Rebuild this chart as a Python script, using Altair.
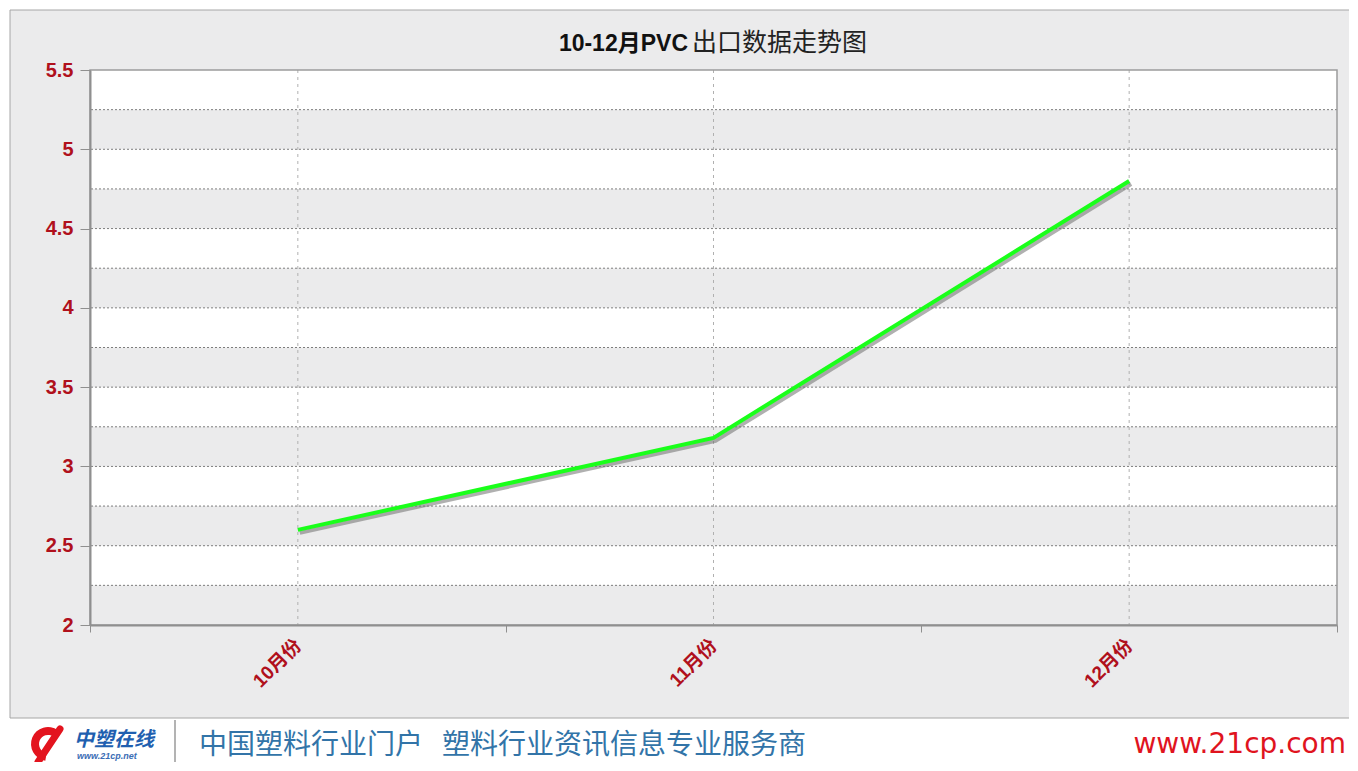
import altair as alt
import pandas as pd

# ---- data ----
months = ["10月份", "11月份", "12月份"]
values = [2.6, 3.18, 4.8]
gray_band_starts = [2.0, 2.5, 3.0, 3.5, 4.0, 4.5, 5.0]
grid_y = [2.25, 2.5, 2.75, 3.0, 3.25, 3.5, 3.75, 4.0, 4.25, 4.5, 4.75, 5.0, 5.25]
y_ticks = [2, 2.5, 3, 3.5, 4, 4.5, 5, 5.5]
title_bold = "10-12月PVC"
title_rest = "出口数据走势图"
footer_a = "中国塑料行业门户"
footer_b = "塑料行业资讯信息专业服务商"
footer_url_text = "www.21cp.com"
logo_name = "中塑在线"
logo_site = "www.21cp.net"

W, H = 1247, 555
RED = "#b0101c"
FONT = "Liberation Sans, Noto Sans CJK SC"

df = pd.DataFrame({"month": months, "value": values})
bands = pd.DataFrame({"y0": gray_band_starts, "y1": [v + 0.25 for v in gray_band_starts]})
grid = pd.DataFrame({"g": grid_y})

xscale = alt.Scale(domain=months, paddingInner=0, paddingOuter=0)
yscale = alt.Scale(domain=[2, 5.5], nice=False, zero=False)

one = pd.DataFrame({"k": [0]})


def txt(text, x, y, **kw):
    return alt.Chart(one).mark_text(text=text, **kw).encode(x=alt.value(x), y=alt.value(y))


frame = alt.Chart(one).mark_rect(fill="#ebebec", stroke="#a6a6a6", strokeWidth=1).encode(
    x=alt.value(-80), x2=alt.value(1262), y=alt.value(-60), y2=alt.value(648)
)
plot_bg = alt.Chart(one).mark_rect(fill="white").encode(
    x=alt.value(0), x2=alt.value(W), y=alt.value(0), y2=alt.value(H)
)
band_layer = alt.Chart(bands).mark_rect(fill="#ebebec").encode(
    y=alt.Y("y0:Q", scale=yscale), y2="y1:Q"
)
hgrid = alt.Chart(grid).mark_rule(color="#7d7d7d", strokeDash=[2, 2], strokeWidth=1).encode(
    y=alt.Y("g:Q", scale=yscale)
)
vgrid = alt.Chart(df).mark_rule(color="#b0b0b0", strokeDash=[3, 4], strokeWidth=1).encode(
    x=alt.X("month:N", scale=xscale, sort=months)
)
plot_border = alt.Chart(one).mark_rect(fill=None, stroke="#9c9c9c", strokeWidth=1.5).encode(
    x=alt.value(0), x2=alt.value(W), y=alt.value(0), y2=alt.value(H)
)

shadow = alt.Chart(df).mark_line(color="#707070", strokeWidth=4, opacity=0.55, xOffset=2, yOffset=3).encode(
    x=alt.X("month:N", scale=xscale, sort=months),
    y=alt.Y("value:Q", scale=yscale),
)
line = alt.Chart(df).mark_line(color="#1aff1a", strokeWidth=4).encode(
    x=alt.X("month:N", scale=xscale, sort=months,
            axis=alt.Axis(title=None, labelAngle=-45, labelColor=RED, labelFontSize=19,
                          labelFontWeight="bold", labelFont=FONT, tickBand="extent",
                          domainColor="#8f8f8f", domainWidth=2, tickColor="#8f8f8f",
                          tickSize=7, labelPadding=10, grid=False, zindex=1)),
    y=alt.Y("value:Q", scale=yscale,
            axis=alt.Axis(title=None, values=y_ticks, format="~g", labelColor=RED,
                          labelFontSize=20, labelFontWeight="bold", labelFont=FONT,
                          domainColor="#8f8f8f", domainWidth=2, tickColor="#8f8f8f",
                          tickSize=10, labelPadding=7, grid=False, zindex=1)),
)

title1 = txt(title_bold, 598, -19, align="right", baseline="alphabetic", font=FONT,
             fontSize=23, fontWeight="bold", color="#111111")
title2 = txt(title_rest, 602, -19, align="left", baseline="alphabetic", font="Noto Sans CJK SC",
             fontSize=25, color="#222222")

footer_bg = alt.Chart(one).mark_rect(fill="white").encode(
    x=alt.value(-82), x2=alt.value(1262), y=alt.value(649), y2=alt.value(700)
)
sep = alt.Chart(one).mark_rule(color="#9a9a9a", strokeWidth=1.5).encode(
    x=alt.value(85), y=alt.value(650), y2=alt.value(700)
)
f1 = txt(footer_a, 109, 684, align="left", baseline="alphabetic",
         font="Noto Sans CJK SC", fontSize=28, color="#3274a8")
f2 = txt(footer_b, 352, 684, align="left", baseline="alphabetic",
         font="Noto Sans CJK SC", fontSize=28, color="#3274a8")
furl = txt(footer_url_text, 1256, 683, align="right", baseline="alphabetic",
           font="DejaVu Sans", fontSize=28, color="#e0141e")
logo1 = txt(logo_name, -16, 676, align="left", baseline="alphabetic", font="Noto Sans CJK SC",
            fontSize=20, fontWeight="bold", fontStyle="italic", color="#1f5fb0")
logo2 = txt(logo_site, -13, 689, align="left", baseline="alphabetic", font="Liberation Sans",
            fontSize=9, fontStyle="italic", fontWeight="bold", color="#3b6db5")
logo_arc = alt.Chart(one).mark_arc(color="#e3141e", innerRadius=9, outerRadius=17).encode(
    x=alt.value(-42), y=alt.value(674), theta=alt.value(3.3), theta2=alt.value(6.9)
)
logo_tail = alt.Chart(one).mark_rule(color="#e3141e", strokeWidth=7, strokeCap="round").encode(
    x=alt.value(-52), y=alt.value(692), x2=alt.value(-30), y2=alt.value(659)
)

chart = alt.layer(
    frame, plot_bg, band_layer, hgrid, vgrid, plot_border, shadow, line, title1, title2,
    footer_bg, sep, f1, f2, furl, logo_arc, logo_tail, logo1, logo2
).properties(
    width=W, height=H,
    autosize=alt.AutoSizeParams(type="none"),
    padding={"left": 82, "top": 62, "right": 12, "bottom": 137},
).configure_view(stroke=None).configure(background="white")

chart.save("out.html", embed_options={"renderer": "svg", "actions": False})
